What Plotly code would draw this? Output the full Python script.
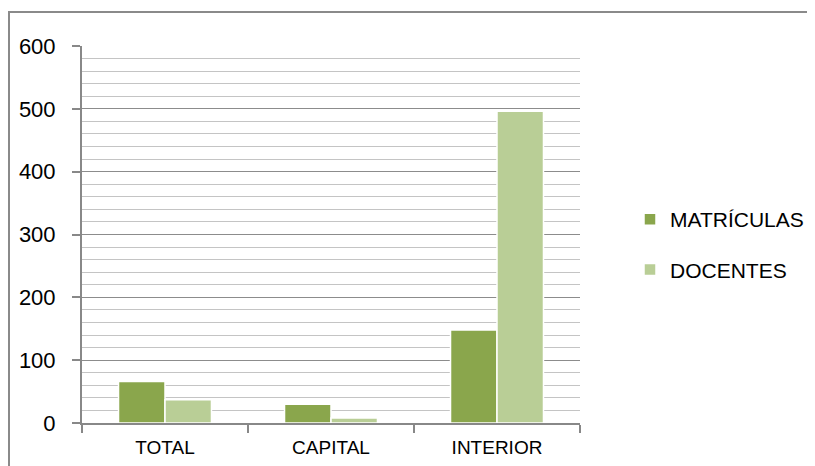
import plotly.graph_objects as go

categories = ["TOTAL", "CAPITAL", "INTERIOR"]
matriculas = [66, 30, 148]
docentes = [37, 8, 496]
y_ticks = [0, 100, 200, 300, 400, 500, 600]

# page has an 8px body margin, so the figure is sized to fit inside it
W, H = 807, 458
L, R, T, B = 74, 235, 38, 43
font_family = "Liberation Sans, Arial, sans-serif"

fig = go.Figure()
fig.add_trace(go.Bar(name="MATRÍCULAS", x=categories, y=matriculas,
                     marker=dict(color="#8aa64c", line=dict(color="white", width=1.5)),
                     legendgroup="a"))
fig.add_trace(go.Bar(name="DOCENTES", x=categories, y=docentes,
                     marker=dict(color="#b9ce96", line=dict(color="white", width=1.5)),
                     legendgroup="b"))

pw = W - L - R
ph = H - T - B
# outer frame in paper coordinates (figure pixel coords -> paper)
x0 = (1 - L) / pw
x1 = (804 - L) / pw
y1 = (H - B - 4) / ph
y0 = (H - B - 470) / ph

fig.update_layout(
    width=W, height=H,
    margin=dict(l=L, r=R, t=T, b=B, pad=0, autoexpand=False),
    paper_bgcolor="white", plot_bgcolor="white",
    barmode="group", bargap=0.44, bargroupgap=0.0,
    font=dict(family=font_family, size=20, color="#000000"),
    showlegend=True,
    legend=dict(x=(622 - L) / pw, y=0.5 - 10 / ph, xanchor="left", yanchor="middle",
                font=dict(size=21), tracegroupgap=20, itemwidth=30,
                bgcolor="rgba(0,0,0,0)"),
    xaxis=dict(type="category", showgrid=False, showline=True, linecolor="#888888",
               linewidth=2, ticks="outside", tickson="boundaries", ticklen=8,
               tickcolor="#888888", tickwidth=1.5, tickfont=dict(size=19),
               ticklabelstandoff=6),
    yaxis=dict(range=[0, 600], tickvals=y_ticks, showline=True, linecolor="#888888",
               linewidth=2, ticks="outside", ticklen=8, tickcolor="#888888",
               tickwidth=1.5, showgrid=True, gridcolor="#8c8c8c", gridwidth=1.3,
               zeroline=False, tickfont=dict(size=22), ticklabelstandoff=12,
               minor=dict(dtick=20, showgrid=True, gridcolor="#c4c4c4", gridwidth=1.3)),
    shapes=[dict(type="rect", xref="paper", yref="paper", x0=x0, x1=x1, y0=y0, y1=y1,
                 line=dict(color="#8a8a8a", width=2), fillcolor="rgba(0,0,0,0)",
                 layer="below")],
)

fig.write_html("out.html")
